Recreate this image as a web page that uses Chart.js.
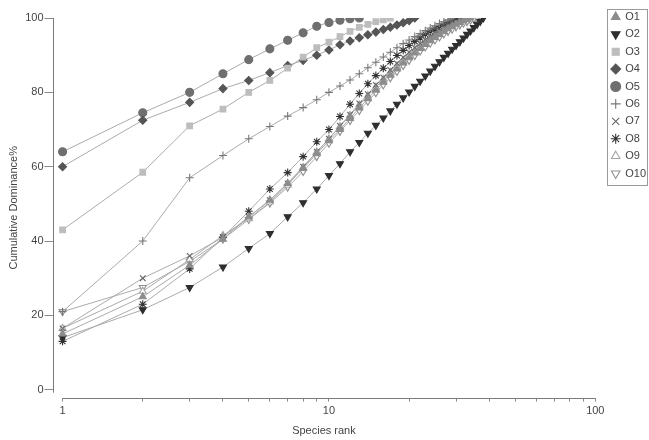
<!DOCTYPE html>
<html>
<head>
<meta charset="utf-8">
<script src="https://cdn.jsdelivr.net/npm/chart.js@4.4.1/dist/chart.umd.min.js"></script>
<style>
  html, body { margin: 0; padding: 0; background: #fff; }
  #wrap { width: 649px; height: 440px; }
</style>
</head>
<body>
<div id="wrap"><canvas id="kdom" width="649" height="440"></canvas></div>
<script>
// cumulative dominance (%) by species rank, rank = index + 1
const seriesNames = ['O1','O2','O3','O4','O5','O6','O7','O8','O9','O10'];

const o1  = [15, 25, 33.5, 40.5, 46.5, 51, 55.5, 59.5, 63.5, 67, 70, 73, 75.8, 78.3, 80.6, 82.7, 84.6, 86.3, 87.9, 89.3, 90.6, 91.8, 92.9, 93.9, 94.8, 95.6, 96.4, 97.1, 97.7, 98.3, 98.8, 99.2, 99.6, 100];
const o2  = [14, 21.5, 27.5, 33, 38, 42, 46.5, 50.3, 54, 57.6, 60.8, 64, 66.5, 69, 71.1, 73.1, 75, 76.8, 78.5, 80.1, 81.6, 83, 84.4, 85.7, 87, 88.2, 89.4, 90.5, 91.6, 92.6, 93.6, 94.6, 95.6, 96.5, 97.4, 98.3, 99.1, 100];
const o3  = [43, 58.5, 71, 75.5, 80, 83.2, 86.5, 89.5, 92, 93.5, 95, 96.4, 97.5, 98.3, 99, 99.5, 100];
const o4  = [60, 72.5, 77.3, 81, 83.2, 85.3, 87.2, 88.6, 90, 91.4, 92.8, 93.8, 94.7, 95.5, 96.2, 96.9, 97.5, 98.1, 98.7, 99.3, 100];
const o5  = [64, 74.5, 80, 85, 88.8, 91.7, 94, 96, 97.8, 98.8, 99.4, 99.8, 100];
const o6  = [21, 40, 57, 63, 67.5, 70.8, 73.6, 75.9, 78, 80, 81.7, 83.3, 85, 86.6, 88.1, 89.5, 90.8, 92, 93.1, 94.1, 95, 95.8, 96.6, 97.3, 97.9, 98.5, 99, 99.5, 100];
const o7  = [16.5, 30, 36, 41, 46.5, 51, 55.5, 60, 64, 67.5, 71, 74, 77, 79.5, 82, 84, 86, 87.8, 89.4, 90.8, 92, 93.1, 94.1, 95, 95.8, 96.6, 97.3, 97.9, 98.5, 99, 99.5, 100];
const o8  = [13, 23, 32.5, 41, 48, 54, 58.4, 62.7, 66.7, 70, 73.5, 76.8, 79.7, 82.3, 84.5, 86.5, 88.3, 89.9, 91.3, 92.6, 93.7, 94.7, 95.6, 96.4, 97.1, 97.7, 98.3, 98.8, 99.2, 99.6, 100];
const o9  = [16.5, 26.5, 35, 41.5, 46, 50.5, 55, 59.8, 64, 67.5, 70.8, 73.8, 76.6, 79.1, 81.4, 83.5, 85.4, 87.1, 88.6, 90, 91.3, 92.5, 93.5, 94.5, 95.4, 96.2, 96.9, 97.6, 98.2, 98.7, 99.2, 99.6, 100];
const o10 = [21, 27.5, 34.5, 40.5, 45.8, 50.2, 54.5, 58.7, 62.7, 66.3, 69.5, 72.4, 75.1, 77.6, 79.9, 82, 83.9, 85.6, 87.2, 88.6, 89.9, 91.1, 92.2, 93.2, 94.1, 94.9, 95.7, 96.4, 97, 97.6, 98.1, 98.6, 99, 99.4, 99.7, 100];

const yTicks = [0, 20, 40, 60, 80, 100];
const xTicks = [1, 2, 3, 4, 5, 6, 7, 8, 9, 10, 20, 30, 40, 50, 60, 70, 80, 90, 100];
const xLabels = [1, 10, 100];

const allValues = [o1, o2, o3, o4, o5, o6, o7, o8, o9, o10];

const markStyles = [
  { pointStyle: 'triangle', rotation: 0,   fill: '#8c8c8c', stroke: '#8c8c8c' },
  { pointStyle: 'triangle', rotation: 180, fill: '#2e2e2e', stroke: '#2e2e2e' },
  { pointStyle: 'rect',     rotation: 0,   fill: '#bdbdbd', stroke: '#bdbdbd' },
  { pointStyle: 'rectRot',  rotation: 0,   fill: '#555555', stroke: '#555555' },
  { pointStyle: 'circle',   rotation: 0,   fill: '#6f6f6f', stroke: '#6f6f6f' },
  { pointStyle: 'cross',    rotation: 0,   fill: '#777777', stroke: '#777777' },
  { pointStyle: 'crossRot', rotation: 0,   fill: '#666666', stroke: '#666666' },
  { pointStyle: 'star',     rotation: 0,   fill: '#333333', stroke: '#333333' },
  { pointStyle: 'triangle', rotation: 0,   fill: '#ffffff', stroke: '#a5a5a5' },
  { pointStyle: 'triangle', rotation: 180, fill: '#ffffff', stroke: '#8f8f8f' }
];

const toPoints = (vals) => vals.map((v, i) => ({ x: i + 1, y: v }));

const datasets = seriesNames.map((name, i) => ({
  label: name,
  data: toPoints(allValues[i]),
  borderColor: '#ababab',
  borderWidth: 1,
  pointStyle: markStyles[i].pointStyle,
  pointRotation: markStyles[i].rotation,
  pointBackgroundColor: markStyles[i].fill,
  pointBorderColor: markStyles[i].stroke,
  pointBorderWidth: 1.1,
  pointRadius: 4,
  tension: 0
}));

// move the legend up into the corner and box it, axes drawn apart like the original
const LEGEND_DX = 10, LEGEND_DY = -13;
const axisLines = {
  id: 'axisLines',
  beforeDraw(chart) {
    const lg = chart.legend;
    if (!lg || lg._moved) return;
    lg.left += LEGEND_DX; lg.right += LEGEND_DX;
    lg.top += LEGEND_DY; lg.bottom += LEGEND_DY;
    (lg.legendHitBoxes || []).forEach(bx => { bx.left += LEGEND_DX; bx.top += LEGEND_DY; });
    lg._moved = true;
  },
  afterDraw(chart) {
    const { ctx } = chart;
    const x = chart.scales.x, y = chart.scales.y;
    ctx.save();
    ctx.strokeStyle = '#7a7a7a';
    ctx.lineWidth = 1;
    ctx.beginPath();
    const ax = Math.round(x.left) + 0.5;
    ctx.moveTo(ax, y.getPixelForValue(100));
    ctx.lineTo(ax, y.getPixelForValue(0) + 3);
    const ay = Math.round(y.bottom) + 0.5;
    ctx.moveTo(x.getPixelForValue(1), ay);
    ctx.lineTo(x.getPixelForValue(100), ay);
    ctx.stroke();

    const boxes = chart.legend.legendHitBoxes;
    if (boxes && boxes.length) {
      let l = Infinity, t = Infinity, r = -Infinity, b = -Infinity;
      boxes.forEach(bx => {
        l = Math.min(l, bx.left); t = Math.min(t, bx.top);
        r = Math.max(r, bx.left + bx.width); b = Math.max(b, bx.top + bx.height);
      });
      ctx.strokeStyle = '#9a9a9a';
      ctx.strokeRect(Math.round(l - 5) + 0.5, Math.round(t - 2) + 0.5, Math.round(r - l + 6), Math.round(b - t + 8));
    }
    ctx.restore();
  }
};

const font = { family: 'Arial, "Liberation Sans", sans-serif', size: 11 };

new Chart(document.getElementById('kdom'), {
  type: 'line',
  data: { datasets },
  plugins: [axisLines],
  options: {
    responsive: false,
    animation: false,
    layout: { padding: { left: 7, top: 18, right: 3, bottom: 2 } },
    scales: {
      x: {
        type: 'logarithmic',
        min: 0.917,
        max: 100,
        border: { display: false },
        grid: { drawOnChartArea: false, tickLength: 4, color: '#8a8a8a' },
        afterBuildTicks: (scale) => { scale.ticks = xTicks.map(v => ({ value: v })); },
        ticks: {
          autoSkip: false,
          maxRotation: 0,
          padding: 3,
          color: '#444',
          font,
          callback: (v) => xLabels.includes(v) ? String(v) : ''
        },
        title: { display: true, text: 'Species rank', color: '#444', font, padding: { top: 4, bottom: 0 } }
      },
      y: {
        min: -2.13,
        max: 100,
        border: { display: false },
        grid: { drawOnChartArea: false, tickLength: 8, color: '#8a8a8a' },
        afterBuildTicks: (scale) => { scale.ticks = yTicks.map(v => ({ value: v })); },
        ticks: { padding: 1, color: '#444', font },
        title: { display: true, text: 'Cumulative Dominance%', color: '#444', font, padding: { top: 0, bottom: 4 } }
      }
    },
    plugins: {
      legend: {
        position: 'right',
        align: 'start',
        labels: {
          usePointStyle: true,
          boxWidth: 8,
          boxHeight: 7,
          padding: 6.4,
          color: '#444',
          font
        }
      },
      tooltip: { enabled: false }
    }
  }
});
</script>
</body>
</html>
